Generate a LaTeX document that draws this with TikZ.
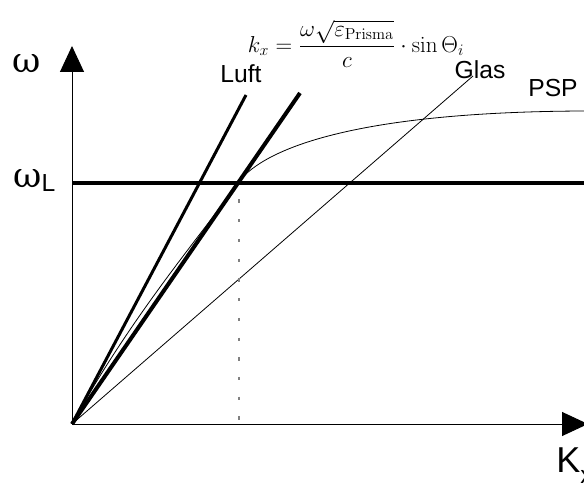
\documentclass[tikz,border=0pt]{standalone}
\usepackage[no-math]{fontspec}
\setmainfont{Liberation Sans}
\newfontfamily\greekfont{DejaVu Serif}
\usetikzlibrary{arrows.meta}

\begin{document}
\begin{tikzpicture}[x=0.75pt, y=0.75pt, >={Triangle[length=19.5pt,width=18pt]},
		lbl/.style={inner sep=0pt, font=\fontsize{18.5}{21}\selectfont},
		axis/.style={->, line width=0.7pt},
		thin line/.style={line width=0.6pt}]
	% Picture window (pixel units, origin where the axes meet)
	\def\xmin{-72} \def\xmax{512}
	\def\ymin{-67} \def\ymax{424}
	\useasboundingbox (\xmin,\ymin) rectangle (\xmax,\ymax);
	
	% Key points
	\coordinate (O) at (0,0);
	\coordinate (xend) at (516,0);
	\coordinate (yend) at (0,378);
	\coordinate (wl0) at (0,241);
	\coordinate (wl1) at (\xmax,241);
	\coordinate (luft) at (174,329);
	\coordinate (prisma) at (228,331);
	\coordinate (glas) at (401,348);
	\coordinate (cross) at (166,241);
	\coordinate (foot) at (167,0);
	\coordinate (top) at (167,241);
	
	% Light lines in air, prism and glass
	\draw[line width=2.25pt] (O) -- (luft);
	\draw[line width=3pt] (O) -- (prisma);
	\draw[thin line] (O) -- (glas);
	
	% Surface plasmon dispersion
	\draw[thin line] (O) .. controls (60,110) and (135,196) .. (cross)
		.. controls (185,268) and (260,312) .. (wl1 |- 0,313);
	
	% Dashed drop from the crossing point
	\draw[gray, line width=1.1pt, dash pattern=on 2.5pt off 12.3pt, dash phase=-12.3pt] (top) -- (foot);
	
	% Level omega_L
	\draw[line width=3pt] (wl0) -- (wl1);
	
	% Axes
	\draw[axis] (O) -- (xend);
	\draw[axis] (O) -- (yend);
	
	% Labels
	\node (om) at (-45,360) {\greekfont\fontsize{26}{28}\selectfont ω};
	\node[anchor=west, inner sep=0pt] (omL) at (-59,243)
		{{\greekfont\fontsize{26}{28}\selectfont ω}\raisebox{-0.3em}{\fontsize{18.5}{21}\selectfont L}};
	\node[anchor=west, inner sep=0pt] (kx) at (484,-42)
		{\fontsize{27}{30}\selectfont K\raisebox{-0.3em}{\fontsize{18.5}{21}\selectfont x}};
	\node[lbl] (luftlbl) at (169,350) {Luft};
	\node[lbl] (glaslbl) at (408,354) {Glas};
	\node[lbl] (psplbl) at (481,336) {PSP};
	\node[inner sep=0pt] (formel) at (284,380)
		{\fontsize{16.5}{19}\selectfont $\displaystyle k_x=\frac{\omega\sqrt{\varepsilon_{\mathrm{Prisma}}}}{c}\cdot\sin\Theta_i$};
\end{tikzpicture}
\end{document}
